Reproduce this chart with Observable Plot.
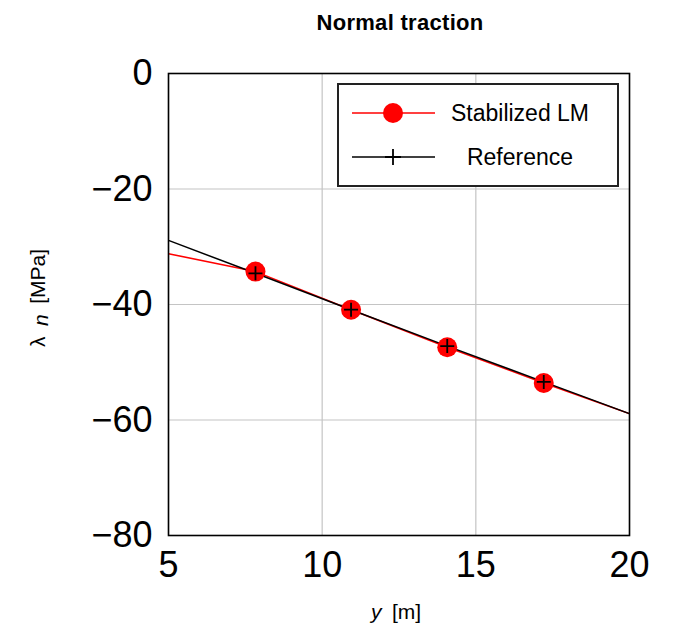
<!DOCTYPE html>
<html>
<head>
<meta charset="utf-8">
<script src="https://cdn.jsdelivr.net/npm/d3@7"></script>
<script src="https://cdn.jsdelivr.net/npm/@observablehq/plot@0.6"></script>
<style>
  body { margin: 0; background: #fff; }
  #wrap { position: relative; width: 679px; height: 629px; font-family: "Liberation Sans", Arial, sans-serif; }
  #title { height: 40px; line-height: 46px; width: 558px; padding-left: 121px; text-align: center; font-weight: bold; font-size: 22px; letter-spacing: 0.3px; color: #000; }
  #legend { position: absolute; left: 337px; top: 83px; width: 282px; height: 104px; box-sizing: border-box; border: 2px solid #222; background: #fff; }
</style>
</head>
<body>
<div id="wrap">
  <div id="title">Normal traction</div>
  <div id="chart"></div>
  <div id="legend"></div>
</div>
<script>
// Axis ticks
const xTicks = [5, 10, 15, 20];
const yTicks = [-80, -60, -40, -20, 0];

// Stabilized LM (red): line and markers
const lmLineX = [5, 7.83, 10.94, 14.07, 17.21, 20];
const lmLineY = [-31.2, -34.3, -40.9, -47.4, -53.6, -58.9];
const lmMarkX = [7.83, 10.94, 14.07, 17.21];
const lmMarkY = [-34.3, -40.9, -47.4, -53.6];

// Reference (black): line and markers
const refLineX = [5, 7.83, 10.94, 14.07, 17.21, 20];
const refLineY = [-28.9, -34.6, -40.9, -47.2, -53.4, -58.9];
const refMarkX = [7.83, 10.94, 14.07, 17.21];
const refMarkY = [-34.6, -40.9, -47.2, -53.4];

const series = ["Stabilized LM", "Reference"];

const zip = (xs, ys) => xs.map((x, i) => ({x, y: ys[i]}));
const lmLine = zip(lmLineX, lmLineY);
const lmMarks = zip(lmMarkX, lmMarkY);
const refLine = zip(refLineX, refLineY);
const refMarks = zip(refMarkX, refMarkY);

const plusSymbol = {
  draw(ctx, size) {
    const r = Math.sqrt(size / Math.PI);
    ctx.moveTo(-r, 0); ctx.lineTo(r, 0);
    ctx.moveTo(0, -r); ctx.lineTo(0, r);
  }
};

const svg = Plot.plot({
  width: 679,
  height: 589,
  marginLeft: 168,
  marginRight: 50,
  marginTop: 33,
  marginBottom: 94,
  style: { fontSize: "36px", fontFamily: "'Liberation Sans', Arial, sans-serif", color: "#000", background: "#fff", overflow: "visible" },
  x: { domain: [5, 20], ticks: xTicks, tickSize: 0, tickPadding: 16, label: null },
  y: { domain: [-80, 0], ticks: yTicks, tickSize: 0, tickPadding: 16, label: null },
  marks: [
    Plot.gridX(xTicks, { stroke: "#c4c4c4", strokeOpacity: 1, strokeWidth: 1.2 }),
    Plot.gridY(yTicks, { stroke: "#c4c4c4", strokeOpacity: 1, strokeWidth: 1.2 }),
    Plot.line(lmLine, { x: "x", y: "y", stroke: "#ff0000", strokeWidth: 1.5, clip: true }),
    Plot.line(refLine, { x: "x", y: "y", stroke: "#000", strokeWidth: 1.5, clip: true }),
    Plot.dot(lmMarks, { x: "x", y: "y", r: 10, fill: "#ff0000", stroke: "none" }),
    Plot.dot(refMarks, { x: "x", y: "y", r: 7, symbol: plusSymbol, fill: "none", stroke: "#000", strokeWidth: 1.8 }),
    Plot.frame({ stroke: "#000", strokeWidth: 1.6 })
  ]
});
document.getElementById("chart").appendChild(svg);

// Axis labels with mixed styles
const s = d3.select(svg);
const xl = s.append("text")
  .attr("x", 396).attr("y", 579)
  .attr("text-anchor", "middle")
  .attr("font-size", 21);
xl.append("tspan").attr("font-style", "italic").text("y");
xl.append("tspan").text("\u2002[m]");

const yl = s.append("text")
  .attr("transform", "translate(45,258) rotate(-90)")
  .attr("text-anchor", "middle")
  .attr("font-size", 21);
yl.append("tspan").text("\u03bb");
yl.append("tspan").attr("font-style", "italic").attr("dy", 3).text("\u2002n");
yl.append("tspan").attr("dy", -3).text("\u2002[MPa]");

// Legend
const lg = d3.select("#legend").append("svg").attr("width", 278).attr("height", 100)
  .style("font-family", "'Liberation Sans', Arial, sans-serif");
const rows = [
  { name: series[0], color: "#ff0000", y: 28 },
  { name: series[1], color: "#000", y: 72 }
];
rows.forEach((r, i) => {
  lg.append("line").attr("x1", 13).attr("x2", 96).attr("y1", r.y).attr("y2", r.y)
    .attr("stroke", r.color).attr("stroke-width", 1.5);
  if (i === 0) {
    lg.append("circle").attr("cx", 54).attr("cy", r.y).attr("r", 10).attr("fill", "#ff0000");
  } else {
    lg.append("path").attr("d", `M${54-8},${r.y}H${54+8}M54,${r.y-8}V${r.y+8}`)
      .attr("stroke", "#000").attr("stroke-width", 1.8).attr("fill", "none");
  }
  lg.append("text").attr("x", 181).attr("y", r.y).attr("dy", "0.36em")
    .attr("text-anchor", "middle").attr("font-size", 23).attr("fill", "#000").text(r.name);
});
</script>
</body>
</html>
